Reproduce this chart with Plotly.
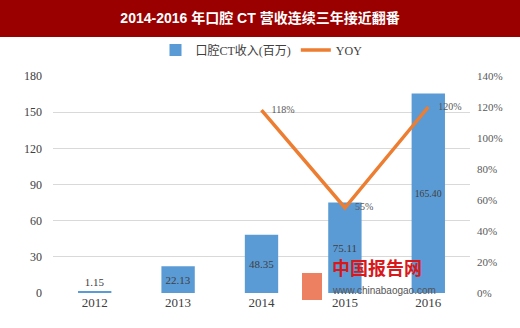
import plotly.graph_objects as go

years = ["2012", "2013", "2014", "2015", "2016"]
revenue = [1.15, 22.13, 48.35, 75.11, 165.40]
yoy_years = ["2014", "2015", "2016"]
yoy = [1.18, 0.55, 1.20]
yoy_labels = ["118%", "55%", "120%"]
left_ticks = [0, 30, 60, 90, 120, 150, 180]
right_ticks = [0, 0.2, 0.4, 0.6, 0.8, 1.0, 1.2, 1.4]
right_tick_text = ["0%", "20%", "40%", "60%", "80%", "100%", "120%", "140%"]

serif = "Liberation Serif, Noto Sans CJK SC, serif"

fig = go.Figure()
fig.add_trace(go.Bar(
    x=years, y=revenue, name="口腔CT收入(百万)",
    marker=dict(color="#5B9BD5", line=dict(width=0)),
    text=[f"{v:.2f}" for v in revenue],
    textposition=["outside", "inside", "inside", "inside", "inside"],
    insidetextanchor="middle",
    textfont=dict(family=serif, size=11, color="#404040"),
    insidetextfont=dict(family=serif, size=11, color="#404040"),
    outsidetextfont=dict(family=serif, size=11, color="#404040"),
    cliponaxis=False,
    textangle=0,
))
fig.add_trace(go.Scatter(
    x=yoy_years, y=yoy, name="YOY", yaxis="y2",
    mode="lines+text",
    line=dict(color="#ED7D31", width=3.5),
    text=["\u00a0\u00a0\u00a0\u00a0" + t for t in yoy_labels], textposition="middle right",
    textfont=dict(family=serif, size=10, color="#595959"),
    cliponaxis=False,
))

# title bar
fig.add_shape(type="rect", xref="paper", yref="paper",
              x0=-0.2, x1=1.2, y0=(293 - 37) / 217, y1=1.4,
              fillcolor="#9B0000", line=dict(width=0), layer="below")

# watermark
fig.add_shape(type="rect", xref="paper", yref="paper",
              x0=(302 - 53) / 417, x1=(322 - 53) / 417,
              y0=(293 - 300) / 217, y1=(293 - 273) / 217,
              fillcolor="#E8603A", line=dict(width=0), opacity=0.8)
fig.add_annotation(xref="paper", yref="paper", x=(330 - 53) / 417, y=(293 - 282) / 217,
                   text="<b>中国报告网</b>", showarrow=False, xanchor="left",
                   font=dict(family="Noto Sans CJK SC", size=18, color="#D7191C"))
fig.add_annotation(xref="paper", yref="paper", x=(330 - 53) / 417, y=(293 - 298) / 217,
                   text="www.chinabaogao.com", showarrow=False, xanchor="left",
                   font=dict(family="Liberation Sans", size=10, color="#555555"))

fig.update_layout(
    width=520, height=328,
    margin=dict(l=53, r=50, t=76, b=35),
    paper_bgcolor="white", plot_bgcolor="white",
    bargap=0.6,
    title=dict(text="<b>2014-2016 年口腔 CT 营收连续三年接近翻番</b>",
               x=0.5, xanchor="center", y=1 - 18 / 328, yanchor="middle",
               font=dict(family="Liberation Sans, Noto Sans CJK SC", size=14, color="white")),
    legend=dict(orientation="h", x=0.5, xanchor="center", y=(293 - 50) / 217, yanchor="middle",
                font=dict(family=serif, size=12, color="#404040"), bgcolor="rgba(0,0,0,0)",
                itemwidth=30),
    xaxis=dict(showgrid=False, showline=False, ticks="",
               tickfont=dict(family=serif, size=13, color="#404040")),
    yaxis=dict(range=[0, 180], tickvals=left_ticks, showgrid=True, gridcolor="#D9D9D9",
               gridwidth=1, zeroline=False, showline=False, ticks="",
               ticklabelstandoff=10,
               tickfont=dict(family=serif, size=12, color="#404040")),
    yaxis2=dict(range=[0, 1.4], tickvals=right_ticks, ticktext=right_tick_text,
                overlaying="y", side="right", showgrid=False, zeroline=False,
                showline=False, ticks="", ticklabelstandoff=6,
                tickfont=dict(family=serif, size=11, color="#595959")),
    showlegend=True,
)

fig.write_html("out.html")
